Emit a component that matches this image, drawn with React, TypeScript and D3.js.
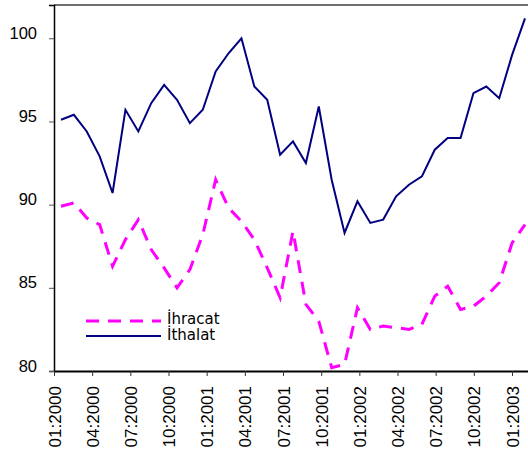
import { useEffect, useRef } from "react";
import * as d3 from "d3";

// monthly index values, 01:2000 .. 01:2003
const ihracat = [
  89.9, 90.1, 89.2, 88.8, 86.3, 87.9, 89.1, 87.3, 86.2, 85.0, 86.1, 88.2,
  91.5, 89.8, 89.0, 87.9, 86.2, 84.4, 88.4, 84.0, 83.0, 80.2, 80.4, 83.8,
  82.5, 82.7, 82.6, 82.5, 82.8, 84.5, 85.1, 83.7, 83.9, 84.5, 85.3, 87.7,
  88.8,
];
const ithalat = [
  95.1, 95.4, 94.4, 92.9, 90.7, 95.7, 94.4, 96.1, 97.2, 96.3, 94.9, 95.7,
  98.0, 99.1, 100.0, 97.1, 96.3, 93.0, 93.8, 92.5, 95.9, 91.5, 88.3, 90.2,
  88.9, 89.1, 90.5, 91.2, 91.7, 93.3, 94.0, 94.0, 96.7, 97.1, 96.4, 99.0,
  101.2,
];
const tickLabels = [
  "01:2000", "04:2000", "07:2000", "10:2000", "01:2001", "04:2001", "07:2001",
  "10:2001", "01:2002", "04:2002", "07:2002", "10:2002", "01:2003",
];
const yTicks = [80, 85, 90, 95, 100];
const seriesNames = ["İhracat", "İthalat"];

const W = 528;
const H = 460;

export default function App() {
  const svgRef = useRef<SVGSVGElement>(null);

  useEffect(() => {
    if (!svgRef.current) return;
    const svg = d3.select(svgRef.current);
    svg.selectAll("*").remove();

    const left = 54, top = 5, bottom = 371, right = 528;

    const y = d3.scaleLinear().domain([80, 102]).range([bottom, top]);
    // data points and tick marks sit on slightly different grids in the original
    const x = d3.scaleLinear().domain([0, ihracat.length - 1]).range([61, 525]);
    const xTick = d3.scaleLinear().domain([0, tickLabels.length - 1]).range([54, 512]);

    // top frame line
    svg.append("line")
      .attr("x1", left).attr("x2", right)
      .attr("y1", top).attr("y2", top)
      .attr("stroke", "#404040")
      .attr("stroke-width", 1.5);

    const line = d3.line<number>()
      .x((d, i) => x(i))
      .y(d => y(d));

    svg.append("path")
      .datum(ithalat)
      .attr("d", line)
      .attr("fill", "none")
      .attr("stroke", "#000080")
      .attr("stroke-width", 2);

    svg.append("path")
      .datum(ihracat)
      .attr("d", line)
      .attr("fill", "none")
      .attr("stroke", "#FF00FF")
      .attr("stroke-width", 3)
      .attr("stroke-dasharray", "13,9");

    // Y axis
    svg.append("g")
      .attr("transform", `translate(${left},0)`)
      .call(d3.axisLeft(y).tickValues(yTicks).tickSize(5).tickPadding(12).tickFormat(d3.format("d")))
      .call(g => g.select(".domain").attr("stroke", "#000").attr("stroke-width", 1.5))
      .call(g => g.selectAll(".tick line").attr("stroke", "#555"))
      .call(g => g.selectAll(".tick text")
        .attr("dy", "0")
        .attr("fill", "#000")
        .attr("font-family", "'Liberation Sans', Arial, sans-serif")
        .attr("font-size", "16.5px"));

    // X axis
    svg.append("g")
      .attr("transform", `translate(0,${bottom})`)
      .call(d3.axisBottom(xTick)
        .tickValues(d3.range(tickLabels.length))
        .tickSize(5)
        .tickSizeOuter(0)
        .tickFormat((d) => tickLabels[d as number]))
      .call(g => g.select(".domain")
        .attr("d", `M${left},0.5H${right}`)
        .attr("stroke", "#000").attr("stroke-width", 2))
      .call(g => g.selectAll(".tick line").attr("stroke", "#333"))
      .call(g => g.selectAll(".tick text")
        .attr("transform", "rotate(-90)")
        .attr("x", -15)
        .attr("y", 0)
        .attr("dy", "0.36em")
        .attr("text-anchor", "end")
        .attr("fill", "#000")
        .attr("font-family", "'Liberation Sans', Arial, sans-serif")
        .attr("font-size", "17px"));

    // legend
    const legend = svg.append("g").attr("transform", "translate(86,0)");
    const legendRows = [
      { name: seriesNames[0], y: 321, color: "#FF00FF", width: 3, dash: "13,9", textY: 324 },
      { name: seriesNames[1], y: 336, color: "#000080", width: 2, dash: null, textY: 340 },
    ];
    legendRows.forEach(r => {
      legend.append("line")
        .attr("x1", 0).attr("x2", 75)
        .attr("y1", r.y).attr("y2", r.y)
        .attr("stroke", r.color)
        .attr("stroke-width", r.width)
        .attr("stroke-dasharray", r.dash);
      legend.append("text")
        .attr("x", 81)
        .attr("y", r.textY)
        .attr("font-family", "'DejaVu Sans', Verdana, sans-serif")
        .attr("font-size", "15px")
        .attr("fill", "#000")
        .text(r.name);
    });
  }, []);

  return (
    <svg
      ref={svgRef}
      width={W}
      height={H}
      style={{ position: "absolute", left: 0, top: 0, background: "#fff" }}
    />
  );
}
